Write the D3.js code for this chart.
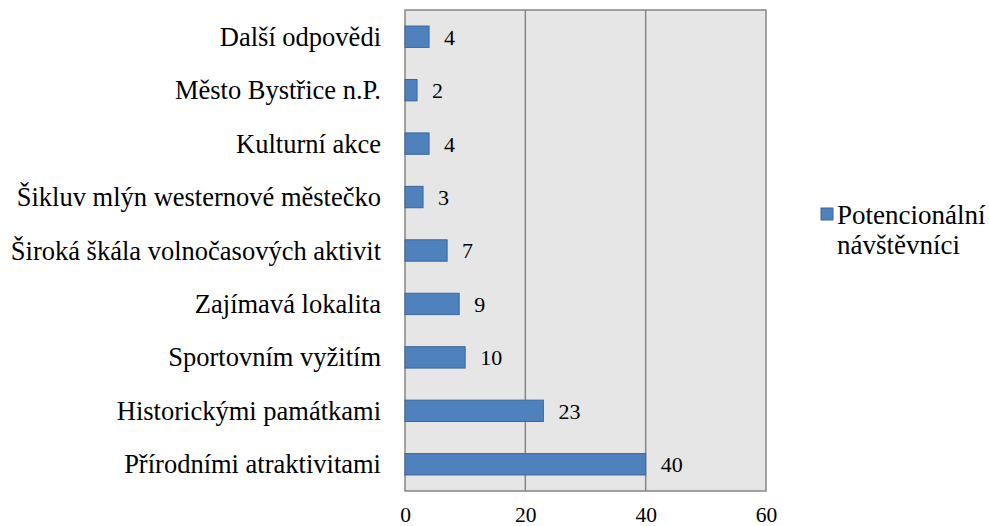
<!DOCTYPE html>
<html>
<head>
<meta charset="utf-8">
<script src="https://cdn.jsdelivr.net/npm/d3@7"></script>
<style>
  body { margin: 0; background: #fff; }
</style>
</head>
<body>
<svg width="989" height="526"></svg>
<script>
// data, top to bottom as drawn
const categories = [
  "Další odpovědi",
  "Město Bystřice n.P.",
  "Kulturní akce",
  "Šikluv mlýn westernové městečko",
  "Široká škála volnočasových aktivit",
  "Zajímavá lokalita",
  "Sportovním vyžitím",
  "Historickými památkami",
  "Přírodními atraktivitami"
];
const values = [4, 2, 4, 3, 7, 9, 10, 23, 40];
const xTicks = [0, 20, 40, 60];
const seriesName = ["Potencionální", "návštěvníci"];

const FONT = "'Liberation Serif', 'Times New Roman', Times, serif";

const data = categories.map((c, i) => ({cat: c, val: values[i]}));

const svg = d3.select("svg"),
      margin = {top: 10, right: 223, bottom: 35, left: 405},
      width = +svg.attr("width") - margin.left - margin.right,
      height = +svg.attr("height") - margin.top - margin.bottom;

const chartArea = svg.append("g")
                     .attr("transform", `translate(${margin.left},${margin.top})`);

const x = d3.scaleLinear().domain([0, 60]).range([0, width]);
const y = d3.scaleBand().domain(categories).range([0, height]).paddingInner(0.6).paddingOuter(0.3);

// plot background
chartArea.append("rect")
  .attr("width", width)
  .attr("height", height)
  .attr("fill", "#e6e6e6")
  .attr("stroke", "#868686")
  .attr("stroke-width", 1.5);

// gridlines
chartArea.selectAll(".grid")
  .data(xTicks.slice(1, -1))
  .enter().append("line")
  .attr("x1", d => x(d)).attr("x2", d => x(d))
  .attr("y1", 0).attr("y2", height)
  .attr("stroke", "#868686")
  .attr("stroke-width", 1.5);

// bars
chartArea.selectAll(".bar")
  .data(data)
  .enter().append("rect")
  .attr("class", "bar")
  .attr("x", 0)
  .attr("y", d => y(d.cat))
  .attr("width", d => x(d.val))
  .attr("height", y.bandwidth())
  .attr("fill", "#4f81bd")
  .attr("stroke", "#3a679c")
  .attr("stroke-width", 1);

// value labels
chartArea.selectAll(".val")
  .data(data)
  .enter().append("text")
  .attr("x", d => x(d.val) + 15)
  .attr("y", d => y(d.cat) + y.bandwidth() / 2)
  .attr("dy", "0.36em")
  .style("font-family", FONT)
  .style("font-size", "22px")
  .text(d => d.val);

// category axis
const yAxis = chartArea.append("g").call(d3.axisLeft(y).tickSize(0).tickPadding(24));
yAxis.attr("font-family", null).attr("font-size", null);
yAxis.select(".domain").remove();
yAxis.selectAll("text")
  .style("font-family", FONT)
  .style("font-size", "26.5px")
  .attr("dy", "0.34em");

// value axis
const xAxis = chartArea.append("g")
  .attr("transform", `translate(0,${height})`)
  .call(d3.axisBottom(x).tickValues(xTicks).tickSize(0));
xAxis.attr("font-family", null).attr("font-size", null);
xAxis.select(".domain").remove();
xAxis.selectAll("text")
  .attr("y", 31)
  .attr("dy", null)
  .style("font-family", FONT)
  .style("font-size", "21.5px");

// legend
const legend = svg.append("g").attr("transform", "translate(821,208)");
legend.append("rect")
  .attr("width", 12).attr("height", 12)
  .attr("fill", "#4f81bd")
  .attr("stroke", "#3a679c");
legend.selectAll("text")
  .data(seriesName)
  .enter().append("text")
  .attr("x", 16)
  .attr("y", (d, i) => 16 + i * 30)
  .style("font-family", FONT)
  .style("font-size", "27px")
  .text(d => d);
</script>
</body>
</html>
